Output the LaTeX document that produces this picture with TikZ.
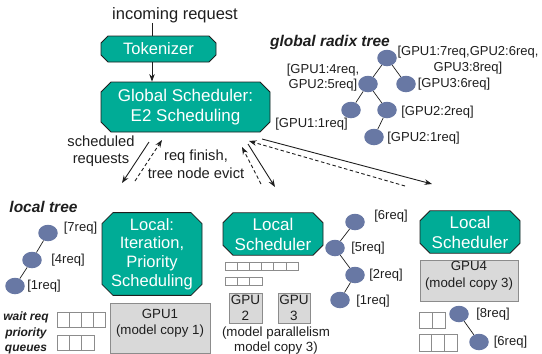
\documentclass[tikz,border=0pt]{standalone}
\usepackage{fontspec}
\setmainfont{Liberation Sans}
\usetikzlibrary{shapes.misc,shapes.geometric,arrows.meta}
\definecolor{boxteal}{RGB}{0,172,150}
\definecolor{treeblue}{RGB}{104,120,164}
\definecolor{gpugray}{RGB}{217,217,217}
\definecolor{edgegray}{RGB}{140,140,140}
\definecolor{ink}{RGB}{30,30,30}
\newcommand{\fs}[2]{\fontsize{#1}{#2}\selectfont}

\begin{document}
\begin{tikzpicture}[x=1pt,y=-1pt,
  sched/.style={chamfered rectangle, chamfered rectangle sep=#1,
    fill=boxteal, draw=ink, line width=0.8pt, text=white, align=center,
    inner sep=0pt},
  gpubox/.style={rectangle, fill=gpugray, draw=edgegray, line width=0.8pt,
    text=ink, align=center, inner sep=0pt},
  tnode/.style={ellipse, fill=treeblue, minimum width=19.5pt, minimum height=16.5pt,
    inner sep=0pt},
  lbl/.style={text=ink, inner sep=0pt, align=center, font=\fs{13}{15.5}},
  ttl/.style={text=ink, inner sep=0pt, align=center, font=\bfseries\itshape\fs{15.5}{18}},
  tedge/.style={draw=ink, line width=0.7pt},
  solidarr/.style={draw=ink, line width=0.9pt, -{Stealth[length=7.5pt,width=5.5pt]}},
  dasharr/.style={draw=ink, line width=0.9pt, dash pattern=on 3.5pt off 2.5pt,
    -{Stealth[length=7.5pt,width=5.5pt]}},
  qcell/.style={draw=edgegray, fill=white, line width=0.7pt}
]
\useasboundingbox (0,0) rectangle (542,354);

% ---- request entry and global scheduler ----
\node[text=ink, inner sep=0pt, font=\fs{16.5}{19}] (inreq) at (175,15) {incoming request};
\node[sched=3.5pt, minimum width=115pt, minimum height=26pt, font=\fs{16.5}{19}]
  (tok) at (158.5,49) {Tokenizer};
\node[sched=5pt, minimum width=169pt, minimum height=50pt, font=\fs{17}{20}]
  (glob) at (185.5,107) {Global Scheduler:\\E2 Scheduling};
\draw[draw=ink, line width=0.9pt] (inreq.south -| tok.north) ++(-6.5,0) coordinate (inbot)
  -- (inbot |- tok.north);
\coordinate (tokb) at (152,62);
\draw[solidarr] (tokb) -- (tokb |- glob.north);

% ---- arrows between global and local schedulers ----
\coordinate (a1s) at (149,142);  \coordinate (a1e) at (122,183);
\coordinate (b1s) at (135,181);  \coordinate (b1e) at (162,140);
\coordinate (a2s) at (248,144);  \coordinate (a2e) at (275,187);
\coordinate (b2s) at (261,184);  \coordinate (b2e) at (242,147);
\coordinate (a3s) at (262,139);  \coordinate (a3e) at (432,184);
\coordinate (b3s) at (405,186);  \coordinate (b3e) at (249,141);
\draw[solidarr] (a1s) -- (a1e);
\draw[dasharr] (b1s) -- (b1e);
\draw[solidarr] (a2s) -- (a2e);
\draw[dasharr] (b2s) -- (b2e);
\draw[solidarr] (a3s) -- (a3e);
\draw[dasharr] (b3s) -- (b3e);

\node[text=ink, inner sep=0pt, align=center, font=\fs{14.7}{17}] (schedreq) at (101,151.5)
  {scheduled\\requests};
\node[text=ink, inner sep=0pt, align=center, font=\fs{14.7}{18}] (finish) at (196,164)
  {req finish,\\tree node evict};

% ---- global radix tree ----
\node[ttl] (gtitle) at (330,42) {global radix tree};
\node[tnode] (g0) at (387,58) {};
\node[tnode] (g1) at (368,84) {};
\node[tnode] (g2) at (406,84) {};
\node[tnode] (g3) at (351,110) {};
\node[tnode] (g4) at (387,110) {};
\node[tnode] (g5) at (374,137) {};
\draw[tedge] (g0) -- (g1);
\draw[tedge] (g0) -- (g2);
\draw[tedge] (g1) -- (g3);
\draw[tedge] (g1) -- (g4);
\draw[tedge] (g4) -- (g5);
\node[lbl, font=\fs{13}{16}] (gl0) at (468,60) {[GPU1:7req,GPU2:6req,\\GPU3:8req]};
\node[lbl, font=\fs{13}{15}] (gl1) at (323,78) {[GPU1:4req,\\GPU2:5req]};
\node[lbl] (gl2) at (454,84) {[GPU3:6req]};
\node[lbl] (gl3) at (311.5,124) {[GPU1:1req]};
\node[lbl] (gl4) at (437.5,112) {[GPU2:2req]};
\node[lbl] (gl5) at (423.5,138) {[GPU2:1req]};

% ---- local scheduler 1 ----
\node[ttl] (ltitle) at (43.5,207) {local tree};
\node[tnode] (l7) at (48,233) {};
\node[tnode] (l4) at (32,260) {};
\node[tnode] (l1) at (15,286) {};
\draw[tedge] (l7) -- (l4);
\draw[tedge] (l4) -- (l1);
\node[lbl] (ll7) at (80.5,228) {[7req]};
\node[lbl] (ll4) at (68,260) {[4req]};
\node[lbl] (ll1) at (44,286.5) {[1req]};

\node[sched=5.5pt, minimum width=100pt, minimum height=82pt, font=\fs{16.5}{18.8}]
  (loc1) at (152,254) {Local:\\Iteration,\\Priority\\Scheduling};
\node[gpubox, minimum width=100pt, minimum height=50pt, font=\fs{13.3}{16}]
  (gpu1) at (160,328) {GPU1\\(model copy 1)\\[-3pt]};

\node[text=ink, inner sep=0pt, align=center, font=\bfseries\itshape\fs{12}{15.5}]
  (waitq) at (26,333) {wait req\\priority\\queues};
\foreach \i in {0,...,3} \draw[qcell] (57+12*\i,312) rectangle ++(12,15);
\foreach \i in {0,...,2} \draw[qcell] (57+12.3*\i,335) rectangle ++(12.3,15);

% ---- local scheduler 2 (GPU2, GPU3) ----
\node[sched=5pt, minimum width=100pt, minimum height=42pt, font=\fs{17}{20}]
  (loc2) at (273,234) {Local\\Scheduler};
\foreach \i in {0,...,5} \draw[qcell] (225+12.2*\i,262) rectangle ++(12.2,8);
\foreach \i in {0,...,2} \draw[qcell] (225+12.3*\i,277) rectangle ++(12.3,8);
\node[gpubox, minimum width=33pt, minimum height=30pt, font=\fs{13.5}{15.5}]
  (gpu2) at (245.5,308) {GPU\\2};
\node[gpubox, minimum width=32pt, minimum height=30pt, font=\fs{13.5}{15.5}]
  (gpu3) at (294,308) {GPU\\3};
\node[lbl, font=\fs{13.3}{15}] (mpar) at (276,340.5) {(model parallelism\\model copy 3)};

\node[tnode] (m6) at (355,222) {};
\node[tnode] (m5) at (335,248) {};
\node[tnode] (m2) at (355,275) {};
\node[tnode] (m1) at (340,300) {};
\draw[tedge] (m6) -- (m5);
\draw[tedge] (m5) -- (m2);
\draw[tedge] (m2) -- (m1);
\node[lbl] (ml6) at (391,216) {[6req]};
\node[lbl] (ml5) at (368,248) {[5req]};
\node[lbl] (ml2) at (386,275) {[2req]};
\node[lbl] (ml1) at (373,301) {[1req]};

% ---- local scheduler 3 (GPU4) ----
\node[sched=5pt, minimum width=100pt, minimum height=40pt, font=\fs{17}{20}]
  (loc3) at (470,232) {Local\\Scheduler};
\node[gpubox, minimum width=98pt, minimum height=38pt, font=\fs{13.3}{17}]
  (gpu4) at (469,281) {GPU4\\(model copy 3)\\[-3pt]};
\foreach \i in {0,...,1} \draw[qcell] (419+13*\i,312) rectangle ++(13,16);
\foreach \i in {0,...,2} \draw[qcell] (419+12.7*\i,334) rectangle ++(12.7,17);
\node[tnode] (r8) at (459,314) {};
\node[tnode] (r6) at (479,342) {};
\draw[tedge] (r8) -- (r6);
\node[lbl] (rl8) at (493,314) {[8req]};
\node[lbl] (rl6) at (510.5,342) {[6req]};
\end{tikzpicture}
\end{document}
